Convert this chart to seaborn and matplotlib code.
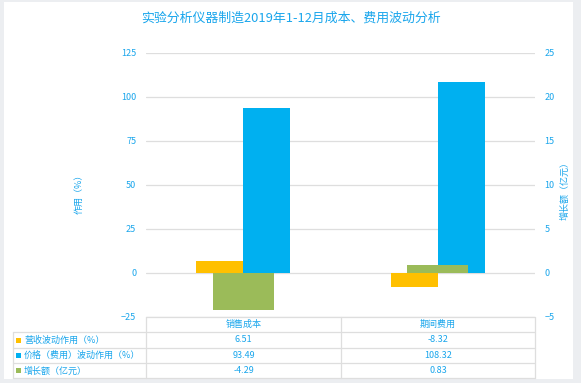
import pandas as pd
import seaborn as sns
import matplotlib.pyplot as plt
from matplotlib.lines import Line2D
from matplotlib.patches import Rectangle

categories = ["销售成本", "期间费用"]
series_names = ["营收波动作用（%）", "价格（费用）波动作用（%）", "增长额（亿元）"]
revenue_effect = [6.51, -8.32]
price_effect = [93.49, 108.32]
growth = [-4.29, 0.83]

title = "实验分析仪器制造2019年1-12月成本、费用波动分析"
left_label = "作用（%）"
right_label = "增长额（亿元）"

ORANGE = "#FFC000"
BLUE = "#00B0F0"
GREEN = "#9BBB59"
TEXT = "#1AA6EC"
GRID = "#DEDEDE"

sns.set_style("white")
plt.rcParams["font.family"] = ["Noto Sans CJK SC", "DejaVu Sans"]

W, H = 581, 383
fig = plt.figure(figsize=(W / 100, H / 100), dpi=100, facecolor="#ECEEF1")


def fx(x):
    return x / W


def fy(y):
    return 1 - y / H


# white panel
fig.add_artist(Rectangle((fx(4), fy(379)), fx(569), (379 - 2) / H,
                         transform=fig.transFigure, facecolor="white",
                         edgecolor="none", zorder=-5))

ax = fig.add_axes([fx(146), fy(316.7), fx(535 - 146), (316.7 - 52.7) / H])
ax.set_facecolor("none")

primary = pd.DataFrame({
    "category": categories * 2,
    "series": [series_names[0]] * 2 + [series_names[1]] * 2,
    "value": revenue_effect + price_effect,
})
second = pd.DataFrame({"category": categories, "value": growth})

sns.barplot(data=primary, x="category", y="value", hue="series",
            palette=[ORANGE, BLUE], width=0.484, gap=0, saturation=1,
            linewidth=0, legend=False, ax=ax)

ax2 = ax.twinx()
sns.barplot(data=second, x="category", y="value", color=GREEN,
            width=0.314, saturation=1, linewidth=0, ax=ax2)

ax.set_xlim(-0.5, 1.5)
ax.set_ylim(-25, 125)
ax.set_yticks(range(-25, 126, 25))
ax2.set_ylim(-5, 25)
ax2.set_yticks(range(-5, 26, 5))
ax.yaxis.grid(True, color=GRID, linewidth=0.9)
ax.set_axisbelow(True)

for a in (ax, ax2):
    sns.despine(ax=a, left=True, right=True, top=True, bottom=True)
    a.set_xlabel("")
    a.set_ylabel("")
    a.set_xticks([])
    a.tick_params(axis="y", length=0, pad=7, labelsize=6.5, labelcolor=TEXT)
    for t in a.get_yticklabels():
        t.set_fontweight("medium")

fig.text(fx(290.5), fy(18), title, ha="center", va="center",
         fontsize=9.3, color=TEXT, fontweight="medium")
fig.text(fx(79), fy(192), left_label, rotation=90, ha="center",
         va="center", fontsize=6.5, color=TEXT, fontweight="medium")
fig.text(fx(565), fy(188), right_label, rotation=90, ha="center",
         va="center", fontsize=6.5, color=TEXT, fontweight="medium")

# data table under the plot
rows_y = [316.7, 332.3, 347.7, 363.3, 378.3]
cols_x = [13, 146, 341, 535]


def hline(y, x0, x1):
    fig.add_artist(Line2D([fx(x0), fx(x1)], [fy(y), fy(y)], color=GRID,
                          linewidth=0.9, transform=fig.transFigure))


def vline(x, y0, y1):
    fig.add_artist(Line2D([fx(x), fx(x)], [fy(y0), fy(y1)], color=GRID,
                          linewidth=0.9, transform=fig.transFigure))


hline(rows_y[0], cols_x[1], cols_x[3])
for y in rows_y[1:]:
    hline(y, cols_x[0], cols_x[3])
vline(cols_x[0], rows_y[1], rows_y[4])
for x in cols_x[1:]:
    vline(x, rows_y[0], rows_y[4])

col_centers = [(cols_x[i] + cols_x[i + 1]) / 2 for i in (1, 2)]
for cx, cat in zip(col_centers, categories):
    fig.text(fx(cx), fy((rows_y[0] + rows_y[1]) / 2), cat, ha="center",
             va="center", fontsize=6.5, color=TEXT, fontweight="medium")

table_values = [revenue_effect, price_effect, growth]
for i, (name, vals, col) in enumerate(zip(series_names, table_values,
                                          [ORANGE, BLUE, GREEN])):
    yc = (rows_y[i + 1] + rows_y[i + 2]) / 2
    fig.add_artist(Rectangle((fx(16), fy(yc + 2.5)), fx(5), 5 / H,
                             transform=fig.transFigure, facecolor=col,
                             edgecolor="none"))
    fig.text(fx(24), fy(yc), name, ha="left", va="center", fontsize=6.5,
             color=TEXT, fontweight="medium")
    for cx, v in zip(col_centers, vals):
        fig.text(fx(cx), fy(yc), f"{v:.2f}", ha="center", va="center",
                 fontsize=6.5, color=TEXT, fontweight="medium")

fig.savefig("out.png", dpi=100)
